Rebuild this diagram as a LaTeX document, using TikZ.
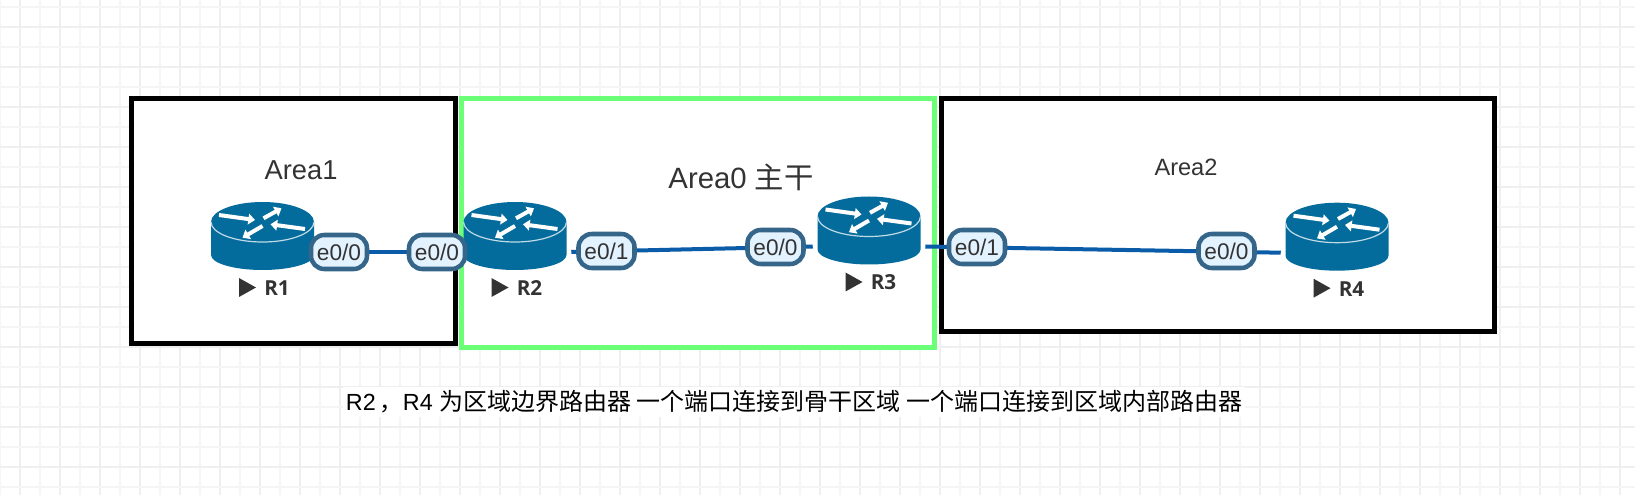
\documentclass[tikz,border=0pt]{standalone}
\usepackage{fontspec}
\setmainfont{Liberation Sans}
\newfontfamily\cjk{Noto Sans CJK SC}
\newfontfamily\labelfont{Open Sans}
\usetikzlibrary{arrows.meta}

\definecolor{gridminor}{HTML}{F6F5F6}
\definecolor{gridmajor}{HTML}{F0EFF0}
\definecolor{greenarea}{HTML}{6BFF78}
\definecolor{routerblue}{HTML}{046C9C}
\definecolor{linkblue}{HTML}{0A5CA8}
\definecolor{portedge}{HTML}{35668A}
\definecolor{portfill}{HTML}{E3F2FF}
\definecolor{textgrey}{HTML}{333333}

\newcommand{\pxfont}[1]{\fontsize{#1}{#1}\selectfont}

\tikzset{
    areabox/.style={draw=#1, fill=white, line width=3.75pt, inner sep=0pt},
    areatext/.style={text=textgrey, inner sep=0pt},
    routerbox/.style={minimum width=84pt, minimum height=51pt, inner sep=0pt},
    linkline/.style={draw=linkblue, line width=3pt},
    port/.style={draw=portedge, fill=portfill, line width=3.4pt, rounded corners=10pt,
        minimum width=42pt, minimum height=25.5pt, inner sep=0pt, text=textgrey,
        font=\pxfont{17}},
    turn/.style={draw=white, line width=3pt, -{Triangle[length=5pt, width=8pt]}},
}

\begin{document}
\begin{tikzpicture}[x=0.75pt, y=-0.75pt]
\useasboundingbox (0,0) rectangle (1635,495);
\fill[white] (0,0) rectangle (1635,495);

% background grid
\foreach \x in {0,40,...,1640} {
    \draw[gridminor, line width=1.5pt] (\x,0) -- (\x,495);
    \draw[gridmajor, line width=1.5pt] (\x+20,0) -- (\x+20,495);
}
\foreach \y in {7,47,...,487} {
    \draw[gridminor, line width=1.5pt] (0,\y) -- (1635,\y);
    \draw[gridmajor, line width=1.5pt] (0,\y+20) -- (1635,\y+20);
}

\node[areabox=black, minimum width=243pt, minimum height=183.4pt] (area1) at (293.5,220.75) {};
\node[areabox=black, minimum width=414.75pt, minimum height=174.75pt] (area2) at (1218,215) {};
\node[areabox=greenarea, minimum width=354.75pt, minimum height=186.75pt] (area0) at (698,223) {};

\node[areatext, font=\pxfont{20.5}] (name1) at (301,170) {Area1};
\node[areatext, font=\pxfont{22}] (name0) at (741,177) {Area0 {\cjk 主干}};
\node[areatext, font=\pxfont{17.7}] (name2) at (1186,167) {Area2};

% routers
\foreach \name/\x/\y in {R1/262.5/252, R2/515/252, R3/869/246.5, R4/1337/252.7} {
    \node[routerbox] (\name) at (\x,\y) {};
    \begin{scope}[shift={(\x,\y)}]
        \fill[routerblue] (-51.5,-30) -- (-51.5,3) arc[start angle=180, end angle=0, x radius=51.5, y radius=15]
            -- (51.5,-30) arc[start angle=0, end angle=-180, x radius=51.5, y radius=20] -- cycle;
        \draw[white!75!routerblue, line width=0.9pt] (-51.5,-30) arc[start angle=180, end angle=0, x radius=51.5, y radius=20];
        \draw[turn] (-43.5,-37) -- (-7.5,-32);
        \draw[turn] (42.5,-23) -- (8,-27.7);
        \draw[turn] (1,-33.7) -- (19,-43.7);
        \draw[turn] (0,-26) -- (-20,-14.3);
        \fill[textgrey] (-23.5,26) -- (-6.5,35.5) -- (-23.5,45) -- cycle;
        \node[anchor=west, inner sep=0pt, text=textgrey, font=\labelfont\bfseries\pxfont{15.5}] (\name label) at (1.5,36) {\name};
    \end{scope}
}

\draw[linkline] (R1.east) -- (R2.west);
\draw[linkline] (R2.east) -- (R3.west);
\draw[linkline] (R3.east) -- (R4.west);

\node[port] (R1e00) at (339,252) {e0/0};
\node[port] (R2e00) at (437,252) {e0/0};
\node[port] (R2e01) at (606.5,251) {e0/1};
\node[port] (R3e00) at (775.5,247) {e0/0};
\node[port] (R3e01) at (977,247) {e0/1};
\node[port] (R4e00) at (1226.5,251) {e0/0};

\node[fill=white, inner xsep=2pt, inner ysep=3pt, text=black, font=\pxfont{17.5}] (note) at (794,402)
    {R2{\cjk\,，}R4 {\cjk\pxfont{18}为区域边界路由器 一个端口连接到骨干区域 一个端口连接到区域内部路由器}};
\end{tikzpicture}
\end{document}
